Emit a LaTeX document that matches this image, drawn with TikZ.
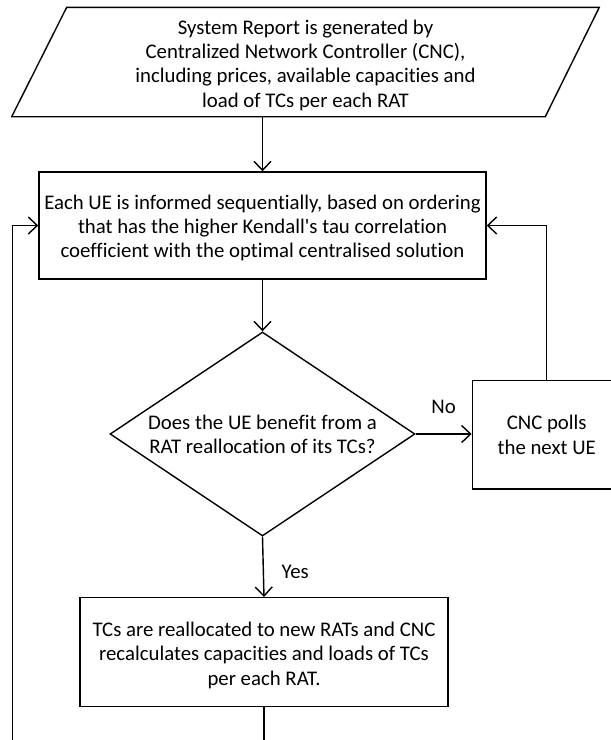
\documentclass[tikz,border=0pt]{standalone}
\usepackage{fontspec}
\setmainfont{Carlito}[Ligatures={NoCommon}]
\usetikzlibrary{shapes.geometric,arrows.meta}

\begin{document}
\begin{tikzpicture}[x=1pt,y=1pt,line width=1.4pt,
  txt/.style={font=\fontsize{20.8pt}{24.3pt}\selectfont,align=center,inner sep=0pt},
  procbox/.style={draw,rectangle,inner sep=0pt},
  arr/.style={-{Straight Barb[length=9pt,width=17pt]}},
  lbl/.style={txt}]
\useasboundingbox (0,0) rectangle (611,-740);
\clip (0,0) rectangle (611,-740);

% input / output block (parallelogram)
\coordinate (reptl) at (66.7,-7.3);
\coordinate (reptr) at (599.3,-7.3);
\coordinate (repbr) at (545.3,-116.7);
\coordinate (repbl) at (11.7,-116.7);
\draw[line join=miter] (reptl) -- (reptr) -- (repbr) -- (repbl) -- cycle;
\node[txt] (report) at (305.5,-65)
  {System Report is generated by\\Centralized Network Controller (CNC),\\including prices, available capacities and\\load of TCs per each RAT};

% process blocks
\node[procbox,minimum width=447pt,minimum height=107pt] (inform) at (262.5,-225.5) {};
\node[txt] (informtext) at ([yshift=-2.5pt]inform.center)
  {Each UE is informed sequentially, based on ordering\\that has the higher Kendall\textquotesingle s tau correlation\\coefficient with the optimal centralised solution};

\node[draw,diamond,txt,aspect=1.5,minimum width=305pt,minimum height=204pt]
  (decide) at (262.5,-434)
  {Does the UE benefit from a\\RAT reallocation of its TCs?};

\node[procbox,txt,minimum width=148.7pt,minimum height=108.3pt] (poll) at (546.7,-434.9)
  {CNC polls\\the next UE};

\node[procbox,minimum width=368pt,minimum height=109pt] (realloc) at (264,-652.2) {};
\node[txt] (realloctext) at ([yshift=-3pt]realloc.center)
  {TCs are reallocated to new RATs and CNC\\recalculates capacities and loads of TCs\\per each RAT.};

% free ends of the loop back
\coordinate (downend) at (264,-746);
\coordinate (loopstart) at (12.3,-746);

% connectors
\draw[arr] (inform.north |- repbl) -- (inform.north);
\draw[arr] (inform.south) -- (decide.north);
\draw[arr] (decide.east) -- (poll.west |- decide.east)
  node[lbl,midway,yshift=27pt] {No};
\draw[arr] (poll.north) |- (inform.east);
\draw[arr] (decide.south) -- (realloc.north)
  node[lbl,midway,xshift=32pt,yshift=-5pt] {Yes};
\draw (realloc.south) -- (downend);
\draw[arr] (loopstart) |- (inform.west);
\end{tikzpicture}
\end{document}
